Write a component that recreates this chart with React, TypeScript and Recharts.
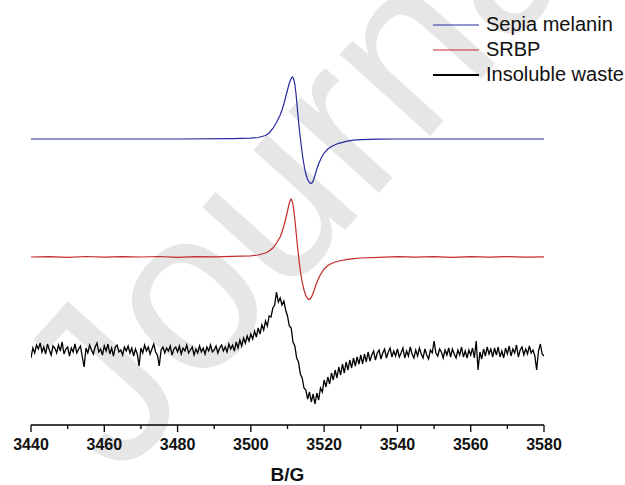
import { Legend, Line, LineChart, XAxis, YAxis } from "recharts";

// field axis ticks (every 10 G, labels every 20 G)
const fieldTicks = [3440, 3450, 3460, 3470, 3480, 3490, 3500, 3510, 3520, 3530, 3540, 3550, 3560, 3570, 3580];

// stacking offsets of the three spectra (same units as the amplitudes)
const sepiaOffset = 286;
const srbpOffset = 168;
const wasteOffset = 75;

// Sepia melanin: field (G) and signal
const sepiaField = [
  3440, 3480, 3495, 3500, 3502, 3504, 3505, 3506, 3507, 3508, 3508.5, 3509, 3509.5, 3510, 3510.5, 3511,
  3511.3, 3511.6, 3512, 3512.3, 3512.6, 3513, 3513.4, 3513.8, 3514.2, 3514.6, 3515, 3515.5, 3516, 3516.4,
  3516.8, 3517.2, 3517.6, 3518, 3518.6, 3519.2, 3520, 3521, 3522, 3523, 3524, 3526, 3528, 3530, 3535, 3540,
  3580,
];
const sepiaSignal = [
  0, 0, 0.3, 0.8, 1.5, 3.5, 6, 10.5, 16.5, 24, 29, 35, 42, 49, 56, 60.5,
  62, 61, 55, 46, 34, 18, 4, -8, -19, -28, -35, -40.5, -43.5, -44.5,
  -43.5, -40, -35, -30, -24, -19, -14, -10, -7.5, -5.8, -4.3, -2.3, -1.2, -0.6, -0.2, 0,
  0,
];

// SRBP
const srbpField = [
  3440, 3445, 3450, 3455, 3460, 3465, 3470, 3475, 3480, 3485, 3490, 3495, 3500, 3502, 3504, 3505, 3506,
  3507, 3508, 3508.5, 3509, 3509.5, 3510, 3510.5, 3510.9, 3511.2, 3511.6, 3512, 3512.4, 3512.8, 3513.2,
  3513.6, 3514, 3514.5, 3515, 3515.5, 3515.9, 3516.3, 3516.8, 3517.3, 3517.8, 3518.4, 3519, 3520, 3521,
  3522, 3523, 3524, 3526, 3528, 3530, 3535, 3540, 3545, 3550, 3555, 3560, 3565, 3570, 3575, 3580,
];
const srbpSignal = [
  0, 0.4, -0.3, 0.5, -0.2, 0.4, 0, 0.5, -0.3, 0.4, 0.2, 0.6, 1.2, 2, 4, 6, 9,
  14, 20, 25, 31, 38, 46, 54, 58, 57, 50, 38, 23, 8, -5,
  -16, -25, -33, -38.5, -41.5, -42.5, -41.5, -38, -33, -27.5, -22, -17.5, -12, -8.5,
  -6.5, -5, -4, -2.6, -1.7, -1, -0.4, 0.3, -0.2, 0.4, -0.3, 0.3, -0.2, 0.4, -0.2, 0.2,
];

// Insoluble waste, sampled every 0.5 G from 3440 G
const wasteStart = 3440;
const wasteStep = 0.5;
const wasteSignal = [
  -8, 2, -3, 5, 1, 7, -2, 3, -4, 6,
  0, -5, 4, 2, -3, 5, -1, 8, -4, 1,
  3, -6, 2, -2, 6, -3, 1, 4, -7, -17,
  2, -3, 5, 0, -4, 3, 7, -2, 1, -5,
  4, -1, 6, -4, 2, -6, 3, 5, -2, 0,
  -5, 3, -1, 4, -3, 2, -6, 1, -4, -16,
  2, -3, 5, -1, 3, -4, 1, 6, -2, -5,
  -16, 0, 3, -3, 2, -1, 4, -5, 1, 3,
  -2, 4, -4, 2, -1, 5, -3, 0, 3, -5,
  1, -3, 4, -2, 2, -4, 3, -1, 5, -2,
  0, 4, -3, 2, 5, -1, 3, -2, 6, 1,
  5, -1, 8, 2, 10, 4, 12, 7, 14, 9,
  16, 11, 19, 13, 22, 16, 25, 20, 29, 24,
  34, 33, 42, 45, 58, 48, 52, 45, 49, 40,
  34, 24, 22, 8, 4, -8, -12, -24, -28, -38,
  -40, -49, -42, -52, -44, -54, -43, -50, -38, -42,
  -30, -37, -27, -34, -23, -30, -20, -28, -17, -25,
  -14, -23, -12, -20, -10, -18, -8, -16, -7, -14,
  -5, -14, -4, -12, -2, -11, -5, -1, -10, -3,
  0, -9, -3, 1, -8, -2, 2, -7, -1, -6,
  1, -7, -3, 2, -8, -1, -6, 3, -4, -8,
  0, -6, 2, -4, -8, 1, -5, -9, 0, -3,
  9, -3, -6, 1, -2, -8, 0, -5, 2, -7,
  1, -4, -8, 0, -5, 3, -7, -1, -8, 0,
  -5, 2, -8, 9, -20, -2, -9, 1, -6, 3,
  -4, 1, -7, 2, -5, 3, -7, -1, -8, 2,
  -4, 4, -6, 1, -3, 5, -7, 0, 3, -5,
  1, -4, 4, -3, 0, -6, -20, -1, 6, -4,
  -6,
];

const sepiaData = sepiaField.map((b, i) => ({ b, y: sepiaSignal[i] + sepiaOffset }));
const srbpData = srbpField.map((b, i) => ({ b, y: srbpSignal[i] + srbpOffset }));
const wasteData = wasteSignal.map((v, i) => ({ b: wasteStart + i * wasteStep, y: v + wasteOffset }));

const series = [
  { name: "Sepia melanin", color: "#2a2aa0", width: 1.2 },
  { name: "SRBP", color: "#c42b2b", width: 1.2 },
  { name: "Insoluble waste", color: "#000000", width: 2 },
];

const FONT = "'Liberation Sans', Arial, sans-serif";

function FieldTick(props: any) {
  const { x, y, payload } = props;
  const major = payload.value % 20 === 0;
  return (
    <g>
      <line x1={x} x2={x} y1={y} y2={y + (major ? 7 : 4)} stroke="#000" strokeWidth={1.3} />
      {major && (
        <text x={x} y={y + 25} textAnchor="middle" fontFamily={FONT} fontWeight="bold" fontSize={16} fill="#111">
          {payload.value}
        </text>
      )}
    </g>
  );
}

function SpectraLegend() {
  return (
    <div style={{ fontFamily: FONT, fontSize: 20, color: "#111" }}>
      {series.map((s) => (
        <div key={s.name} style={{ display: "flex", alignItems: "center", height: 25, whiteSpace: "nowrap" }}>
          <svg width={46} height={4} style={{ marginRight: 7 }}>
            <line x1={0} x2={46} y1={2} y2={2} stroke={s.color} strokeWidth={s.width} />
          </svg>
          <span>{s.name}</span>
        </div>
      ))}
    </div>
  );
}

export default function App() {
  return (
    <div style={{ position: "absolute", left: 0, top: 0, width: 625, height: 485, background: "#fff", overflow: "hidden" }}>
      <svg width={625} height={485} style={{ position: "absolute", left: 0, top: 0 }}>
        <text
          x={0}
          y={0}
          transform="translate(120 480) rotate(-48)"
          fontFamily={FONT}
          fontSize={230}
          fill="#e6e6e6"
        >
          Journal
        </text>
      </svg>
      <div style={{ position: "absolute", left: 0, top: 0 }}>
        <LineChart width={625} height={485} margin={{ top: 10, right: 81, left: 31, bottom: 0 }}>
          <XAxis
            type="number"
            dataKey="b"
            domain={[3440, 3580]}
            ticks={fieldTicks}
            interval={0}
            allowDataOverflow
            height={60}
            tickSize={0}
            tickMargin={0}
            tickLine={false}
            axisLine={{ stroke: "#000", strokeWidth: 1.3 }}
            tick={<FieldTick />}
            label={{
              content: (p: any) => {
                const vb = p.viewBox;
                return (
                  <text x={vb.x + vb.width / 2} y={vb.y + 56} textAnchor="middle" fontFamily={FONT} fontWeight="bold" fontSize={19} fill="#111">
                    B/G
                  </text>
                );
              },
            }}
          />
          <YAxis type="number" domain={[0, 415]} hide />
          <Legend
            layout="vertical"
            align="center"
            verticalAlign="middle"
            content={<SpectraLegend />}
            wrapperStyle={{ top: 12, left: 433, width: 200, height: 80 }}
          />
          <Line data={sepiaData} dataKey="y" name={series[0].name} stroke={series[0].color} strokeWidth={1.2} dot={false} isAnimationActive={false} />
          <Line data={srbpData} dataKey="y" name={series[1].name} stroke={series[1].color} strokeWidth={1.2} dot={false} isAnimationActive={false} />
          <Line data={wasteData} dataKey="y" name={series[2].name} stroke={series[2].color} strokeWidth={1.3} dot={false} isAnimationActive={false} />
        </LineChart>
      </div>
    </div>
  );
}
